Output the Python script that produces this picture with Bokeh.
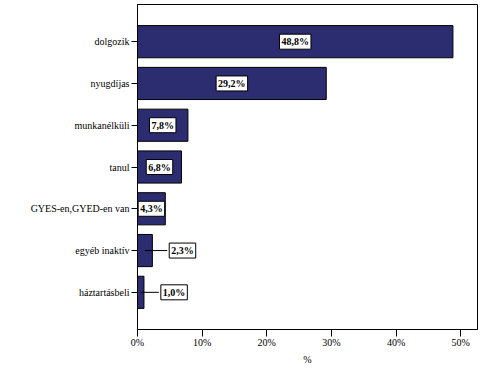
from bokeh.plotting import figure
from bokeh.models import ColumnDataSource, FactorRange, Range1d, FixedTicker, PrintfTickFormatter
from bokeh.core.properties import value
from bokeh.embed import file_html
from bokeh.resources import INLINE

categories = ["dolgozik", "nyugdíjas", "munkanélküli", "tanul",
              "GYES-en,GYED-en van", "egyéb inaktív", "háztartásbeli"]
percents = [48.8, 29.2, 7.8, 6.8, 4.3, 2.3, 1.0]
x_ticks = [0, 10, 20, 30, 40, 50]

FONT = "Liberation Serif"
BAR = "#2c2c70"

labels = [f"{v:.1f}".replace(".", ",") + "%" for v in percents]
inside = [v >= 4 for v in percents]

src_bars = ColumnDataSource(dict(cat=categories, val=percents))
src_in = ColumnDataSource(dict(
    cat=[c for c, i in zip(categories, inside) if i],
    x=[v / 2 for v, i in zip(percents, inside) if i],
    lab=[l for l, i in zip(labels, inside) if i]))
src_out = ColumnDataSource(dict(
    cat=[c for c, i in zip(categories, inside) if not i],
    x0=[v / 2 for v, i in zip(percents, inside) if not i],
    x1=[v + 2.3 for v, i in zip(percents, inside) if not i],
    lab=[l for l, i in zip(labels, inside) if not i]))

p = figure(y_range=FactorRange(*reversed(categories), range_padding=0.39,
                               range_padding_units="absolute"),
           x_range=Range1d(0, 52.6),
           frame_width=340, frame_height=325,
           min_border_left=137, min_border_top=4, min_border_right=4, min_border_bottom=0,
           output_backend="svg", toolbar_location=None)

p.hbar(y="cat", right="val", left=0, height=0.77, source=src_bars,
       fill_color=BAR, line_color="black", line_width=1)

p.segment(x0="x0", y0="cat", x1="x1", y1="cat", source=src_out,
          line_color="black", line_width=1)

common = dict(text_font=value(FONT), text_font_size="10px", text_font_style="bold",
              text_color="black", text_baseline="middle",
              background_fill_color="white", border_line_color="black",
              border_line_width=1, padding=2)
p.text(x="x", y="cat", text="lab", source=src_in, text_align="center", **common)
p.text(x="x1", y="cat", text="lab", source=src_out, text_align="left", x_offset=2, **common)

p.xgrid.visible = False
p.ygrid.visible = False
p.outline_line_color = "black"
p.outline_line_width = 1
p.background_fill_color = "white"
p.border_fill_color = "white"

xa = p.xaxis[0]
xa.ticker = FixedTicker(ticks=x_ticks)
xa.formatter = PrintfTickFormatter(format="%d%%")
xa.axis_label = "%"
xa.axis_label_text_font = FONT
xa.axis_label_text_font_size = "10px"
xa.axis_label_text_font_style = "normal"
xa.axis_label_text_color = "black"
xa.axis_label_standoff = 3
xa.major_label_text_font = FONT
xa.major_label_text_font_size = "10px"
xa.major_label_text_color = "black"
xa.major_label_standoff = 0
xa.major_tick_out = 7
xa.major_tick_in = 0
xa.minor_tick_out = 0
xa.minor_tick_in = 0
xa.axis_line_color = "black"
xa.major_tick_line_color = "black"

ya = p.yaxis[0]
ya.major_label_text_font = FONT
ya.major_label_text_font_size = "10px"
ya.major_label_text_color = "black"
ya.major_label_standoff = 2
ya.major_tick_out = 6
ya.major_tick_in = 0
ya.axis_line_color = "black"
ya.major_tick_line_color = "black"

open("out.html", "w").write(file_html(p, INLINE))
